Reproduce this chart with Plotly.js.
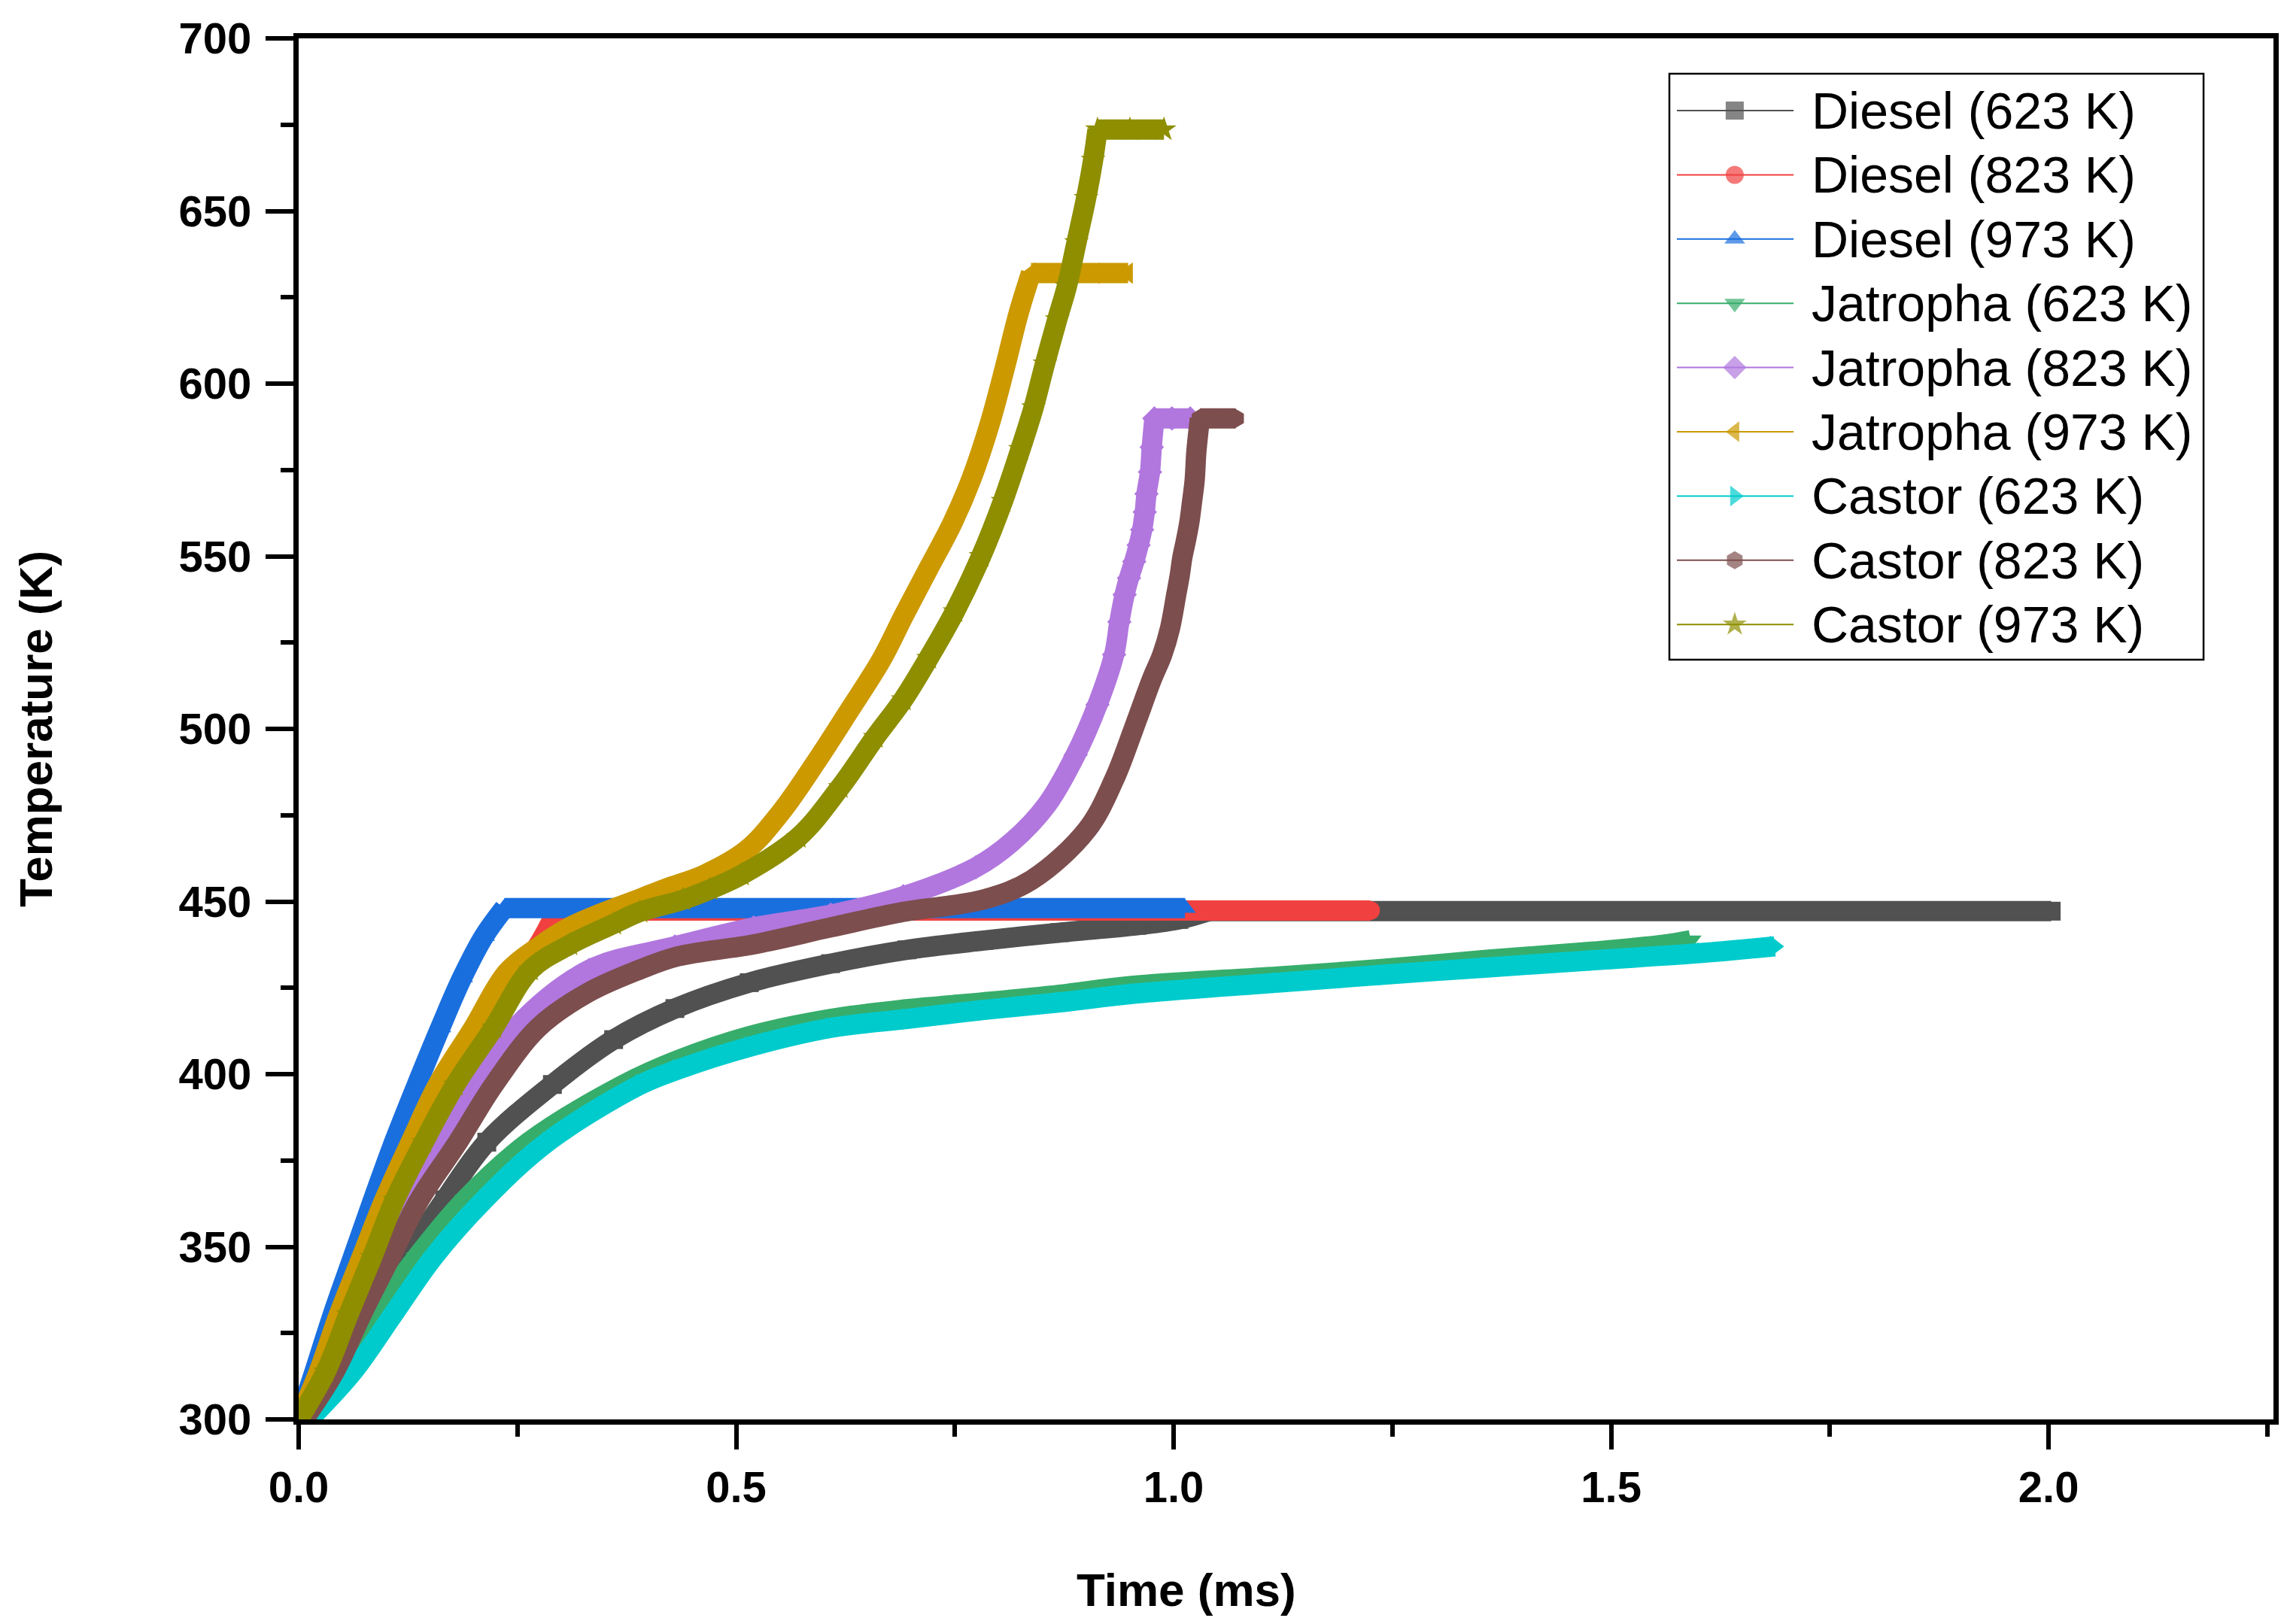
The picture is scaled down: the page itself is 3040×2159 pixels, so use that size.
<!DOCTYPE html>
<html>
<head>
<meta charset="utf-8">
<title>Temperature vs time</title>
<script src="https://cdn.plot.ly/plotly-3.0.1.min.js"></script>
<style>
  html, body { margin: 0; padding: 0; background: #fff; }
  #chart { width: 3040px; height: 2159px; }
</style>
</head>
<body>
<div id="chart"></div>
<script>
// values (time in ms, temperature in K)
const diesel623Time = [0.005, 0.045, 0.08, 0.123, 0.167, 0.215, 0.29, 0.36, 0.43, 0.515, 0.608, 0.695, 0.783, 0.87, 0.958, 1.006, 1.04, 1.2, 1.4, 1.6, 1.8, 2.003];
const diesel623Temp = [300, 313.8, 330.4, 347, 363.6, 380.3, 397, 410, 419, 426.5, 432, 436, 438.7, 441, 443.1, 444.8, 447.2, 447.2, 447.2, 447.2, 447.2, 447.2];

const diesel823Time = [0, 0.028, 0.054, 0.082, 0.108, 0.141, 0.174, 0.213, 0.256, 0.28, 0.295, 0.4, 0.6, 0.8, 1.0, 1.225];
const diesel823Temp = [300, 313.8, 330.4, 347, 363.6, 380.3, 396.9, 413.5, 430.2, 440, 447.4, 447.4, 447.4, 447.4, 447.4, 447.4];

const diesel973Time = [0, 0.018, 0.039, 0.062, 0.085, 0.109, 0.135, 0.162, 0.187, 0.212, 0.235, 0.4, 0.6, 0.8, 1.013];
const diesel973Temp = [300, 313.8, 330.4, 347, 363.6, 380.3, 396.9, 413.5, 428, 440, 448.1, 448.1, 448.1, 448.1, 448.1];

const jatropha623Time = [0.005, 0.049, 0.088, 0.135, 0.19, 0.263, 0.371, 0.433, 0.515, 0.608, 0.695, 0.783, 0.87, 0.95, 1.119, 1.24, 1.358, 1.48, 1.56, 1.591];
const jatropha623Temp = [300, 313.8, 330.4, 347, 363.6, 380.3, 396.9, 404, 411, 416, 418.8, 420.8, 423, 425.5, 428.3, 430.5, 433.1, 435.5, 437.5, 438.8];

const jatropha823Time = [0.003, 0.037, 0.065, 0.092, 0.121, 0.164, 0.202, 0.248, 0.332, 0.43, 0.52, 0.608, 0.691, 0.774, 0.815, 0.855, 0.888, 0.913, 0.932, 0.938, 0.944, 0.949, 0.955, 0.96, 0.964, 0.967, 0.969, 0.973, 0.975, 0.978, 0.998, 1.019];
const jatropha823Temp = [300, 313.8, 330.4, 347, 363.6, 380.3, 396.9, 413.5, 430.2, 437, 442.5, 446.2, 451.5, 459.9, 467.2, 478, 492.5, 507, 521.5, 531, 538.9, 543.7, 548.5, 553.2, 557.7, 562.8, 568.1, 574.4, 581.6, 589.9, 589.9, 589.9];

const jatropha973Time = [0, 0.023, 0.046, 0.072, 0.098, 0.128, 0.159, 0.2, 0.238, 0.275, 0.309, 0.345, 0.39, 0.42, 0.463, 0.512, 0.551, 0.591, 0.628, 0.666, 0.692, 0.72, 0.747, 0.769, 0.79, 0.807, 0.823, 0.837, 0.87, 0.91, 0.948];
const jatropha973Temp = [300, 313.8, 330.4, 347, 363.6, 380.3, 396.9, 413.5, 429.5, 437, 442.5, 446.5, 450.8, 453.8, 457.7, 464.9, 475.8, 490.3, 504.8, 520, 533, 546.5, 559.5, 572.5, 588.5, 604.5, 620.5, 632, 632, 632, 632];

const castor623Time = [0.012, 0.062, 0.108, 0.154, 0.212, 0.284, 0.39, 0.433, 0.515, 0.608, 0.695, 0.783, 0.87, 0.955, 1.119, 1.24, 1.358, 1.48, 1.604, 1.687];
const castor623Temp = [300, 313.8, 330.4, 347, 363.6, 380.3, 396.9, 401.3, 407.9, 413.4, 416, 418.6, 420.8, 423.3, 426.5, 428.8, 430.9, 433, 435.1, 437];

const castor823Time = [0.006, 0.041, 0.072, 0.105, 0.138, 0.182, 0.223, 0.274, 0.33, 0.389, 0.433, 0.52, 0.608, 0.691, 0.783, 0.838, 0.901, 0.932, 0.954, 0.975, 0.987, 0.996, 1.003, 1.007, 1.01, 1.014, 1.018, 1.021, 1.024, 1.026, 1.03, 1.05, 1.071];
const castor823Temp = [300, 313.8, 330.4, 347, 363.6, 380.3, 396.9, 413.5, 423.5, 430.2, 434.1, 437.6, 442.5, 447, 450.6, 456.3, 470.8, 485.3, 499.8, 514.3, 521.5, 529.3, 538.9, 544.5, 549.7, 554.5, 559.9, 565.7, 571.9, 580.3, 589.9, 589.9, 589.9];

const castor973Time = [0, 0.031, 0.057, 0.084, 0.11, 0.143, 0.179, 0.223, 0.265, 0.31, 0.36, 0.39, 0.439, 0.47, 0.506, 0.571, 0.619, 0.659, 0.691, 0.72, 0.75, 0.78, 0.805, 0.825, 0.84, 0.853, 0.867, 0.878, 0.889, 0.9, 0.908, 0.913, 0.95, 0.989];
const castor973Temp = [300, 313.8, 330.4, 347, 363.6, 380.3, 396.9, 413.5, 430.2, 437.5, 443.5, 447, 450.5, 453.5, 457.7, 468.6, 483.1, 497.6, 508.5, 520.5, 534, 550, 566, 581, 593.1, 605.8, 618.6, 628.2, 640.9, 653.7, 664.8, 673.6, 673.6, 673.6];

const xTickVals = [0, 0.5, 1.0, 1.5, 2.0];
const xTickText = ['0.0', '0.5', '1.0', '1.5', '2.0'];
const xMinorVals = [0.25, 0.75, 1.25, 1.75, 2.25];
const yTickVals = [300, 350, 400, 450, 500, 550, 600, 650, 700];

const series = [
    { name: 'Diesel (623 K)', x: diesel623Time, y: diesel623Temp, color: '#515151', symbol: 'square' },
    { name: 'Diesel (823 K)', x: diesel823Time, y: diesel823Temp, color: '#F14040', symbol: 'circle' },
    { name: 'Diesel (973 K)', x: diesel973Time, y: diesel973Temp, color: '#1A6FDF', symbol: 'triangle-up' },
    { name: 'Jatropha (623 K)', x: jatropha623Time, y: jatropha623Temp, color: '#37AD6B', symbol: 'triangle-down' },
    { name: 'Jatropha (823 K)', x: jatropha823Time, y: jatropha823Temp, color: '#B177DE', symbol: 'diamond' },
    { name: 'Jatropha (973 K)', x: jatropha973Time, y: jatropha973Temp, color: '#CC9900', symbol: 'triangle-left' },
    { name: 'Castor (623 K)', x: castor623Time, y: castor623Temp, color: '#00CBCC', symbol: 'triangle-right' },
    { name: 'Castor (823 K)', x: castor823Time, y: castor823Temp, color: '#7D4E4E', symbol: 'hexagon' },
    { name: 'Castor (973 K)', x: castor973Time, y: castor973Temp, color: '#8E8E00', symbol: 'star' }
];

const FONT = 'Liberation Sans, Arial, Helvetica, sans-serif';
const BAND = 27;
const MARK = 25;

// the reference marks are so dense they merge into a thick band:
// a wide line gives the band (smooth rise, straight plateau), symbols sit on top
const traces = [];
series.forEach(s => {
    const top = Math.max(...s.y);
    let k = s.y.indexOf(top);
    if (k === s.y.length - 1) k = -1; // no plateau (623 K biodiesels)
    const rise = k < 0 ? s.y.length : k + 1;
    traces.push({
        x: s.x.slice(0, rise), y: s.y.slice(0, rise), type: 'scatter', mode: 'lines',
        line: { color: s.color, width: BAND, shape: 'spline', smoothing: 1 },
        showlegend: false, hoverinfo: 'skip'
    });
    if (k >= 0) {
        traces.push({
            x: s.x.slice(k), y: s.y.slice(k), type: 'scatter', mode: 'lines',
            line: { color: s.color, width: BAND },
            showlegend: false, hoverinfo: 'skip'
        });
    }
    traces.push({
        x: s.x, y: s.y, type: 'scatter', mode: 'markers', name: s.name,
        marker: { symbol: s.symbol, size: MARK, color: s.color, line: { width: 0 } },
        showlegend: false, hoverinfo: 'skip'
    });
});

// legend drawn by hand so its box, key size and row pitch match the reference
const legendLeft = 0.6941, legendRight = 0.9646, legendTop = 0.9744, legendBottom = 0.5501;
const keyX = [0.6979, 0.7272, 0.7570];
const textX = 0.7653;
const rowY = i => 0.9477 - 0.04651 * i;

const annotations = [];
series.forEach((s, i) => {
    traces.push({
        x: keyX, y: [rowY(i), rowY(i), rowY(i)], xaxis: 'x2', yaxis: 'y2',
        type: 'scatter', mode: 'lines+markers',
        line: { color: s.color, width: 2 },
        marker: { symbol: s.symbol, size: [0, 24, 0], color: s.color, line: { width: 0 } },
        showlegend: false, hoverinfo: 'skip', cliponaxis: false
    });
    annotations.push({
        text: s.name, xref: 'paper', yref: 'paper', x: textX, y: rowY(i),
        xanchor: 'left', yanchor: 'middle', showarrow: false,
        font: { family: FONT, size: 68, color: '#000' }
    });
});

// x title in the reference sits left of the axis centre
annotations.push({
    text: 'Time (ms)', xref: 'paper', yref: 'paper', x: 0.4495, y: -0.1231,
    xanchor: 'center', yanchor: 'middle', showarrow: false,
    font: { family: FONT, size: 62, color: '#000', weight: 'bold' }
});

const axisCommon = {
    showline: true, linewidth: 7, linecolor: '#000', mirror: true,
    showgrid: false, zeroline: false,
    ticks: 'outside', tickwidth: 6, tickcolor: '#000',
    tickfont: { family: FONT, size: 58, color: '#000', weight: 'bold' }
};

const layout = {
    width: 3040, height: 2159,
    margin: { l: 397, r: 18, t: 51, b: 272, pad: 0 },
    paper_bgcolor: '#fff', plot_bgcolor: '#fff',
    font: { family: FONT, color: '#000' },
    showlegend: false,
    xaxis: Object.assign({}, axisCommon, {
        range: [0, 2.257],
        tickvals: xTickVals, ticktext: xTickText,
        ticklen: 33, ticklabelstandoff: 0,
        minor: { tickvals: xMinorVals, ticks: 'outside', ticklen: 16, tickwidth: 6, tickcolor: '#000' }
    }),
    yaxis: Object.assign({}, axisCommon, {
        range: [300, 700],
        tickvals: yTickVals,
        ticklen: 37, ticklabelstandoff: 7,
        minor: { dtick: 25, ticks: 'outside', ticklen: 17, tickwidth: 6, tickcolor: '#000' },
        title: { text: 'Temperature (K)', font: { family: FONT, size: 62, color: '#000', weight: 'bold' }, standoff: 150 }
    }),
    xaxis2: { overlaying: 'x', range: [0, 1], visible: false, fixedrange: true },
    yaxis2: { overlaying: 'y', range: [0, 1], visible: false, fixedrange: true },
    shapes: [{
        type: 'rect', xref: 'paper', yref: 'paper',
        x0: legendLeft, x1: legendRight, y0: legendBottom, y1: legendTop,
        line: { color: '#000', width: 2.5 }, fillcolor: 'rgba(0,0,0,0)', layer: 'above'
    }],
    annotations: annotations
};

Plotly.newPlot('chart', traces, layout, { staticPlot: true });
</script>
</body>
</html>
